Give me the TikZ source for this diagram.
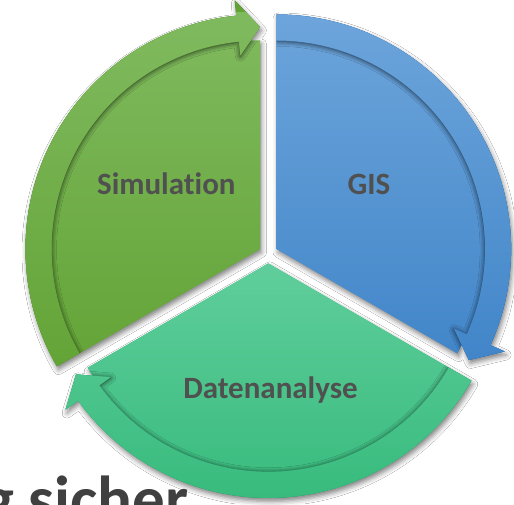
\documentclass[tikz,border=0pt]{standalone}
\usepackage{fontspec}
\setmainfont{Carlito}[Ligatures={NoCommon}]
\usetikzlibrary{shadows.blur}

\definecolor{simtop}{HTML}{80BA5F}
\definecolor{simbot}{HTML}{62A335}
\definecolor{gistop}{HTML}{6DA5DB}
\definecolor{gisbot}{HTML}{3F84C8}
\definecolor{dattop}{HTML}{60CE9C}
\definecolor{datbot}{HTML}{38BB7D}
\definecolor{labelgray}{HTML}{505050}
\definecolor{titlegray}{HTML}{404040}

% geometry of one cycle segment (arrow runs clockwise from 90 to -30 degrees)
\def\cycR{234.5}   % outer radius of the arrow band
\def\cycr{208.5}   % radius of the segment body
\def\cycHo{250}    % outer barb of the arrow head
\def\cycHi{194.5}  % inner barb of the arrow head
\def\cycRt{222}    % radius of the arrow tip
\def\cycTb{-24.2}  % angle of the head base
\def\cycTe{-30}    % angle of the tip (segment border)

\newcommand\cycOutline[1]{%
  (0,0) -- ({90+#1}:\cycR)
  arc[start angle={90+#1}, end angle={\cycTb+#1}, radius=\cycR]
  -- ({\cycTb+#1}:\cycHo) -- ({\cycTe+#1}:\cycRt) -- ({\cycTb+#1}:\cycHi)
  -- ({\cycTb+#1}:\cycr)
  arc[start angle={\cycTb+#1}, end angle={\cycTe+#1}, radius=\cycr] -- cycle}

\newcommand\cycBand[1]{%
  ({90+#1}:\cycR)
  arc[start angle={90+#1}, end angle={\cycTb+#1}, radius=\cycR]
  -- ({\cycTb+#1}:\cycHo) -- ({\cycTe+#1}:\cycRt) -- ({\cycTb+#1}:\cycHi)
  -- ({\cycTb+#1}:\cycr)
  arc[start angle={\cycTb+#1}, end angle={90+#1}, radius=\cycr] -- cycle}

% #1 centre, #2 rotation, #3 top colour, #4 bottom colour, #5/#6 shading range
\newcommand\cycSegment[6]{%
  \begin{scope}[shift={#1}]
    \path[segdrop, fill=#4] \cycOutline{#2};
    \begin{scope}
      \clip \cycOutline{#2};
      \shade[top color=#3, bottom color=#4] (-260,#5) rectangle (260,#6);
      \path[bandglow, fill=#4] \cycBand{#2};
      \clip \cycBand{#2};
      \shade[top color=#3, bottom color=#4] (-260,#5) rectangle (260,#6);
    \end{scope}
  \end{scope}}

\tikzset{
  segdrop/.style={blur shadow={shadow xshift=1.5pt, shadow yshift=-3.5pt,
      shadow blur radius=5pt, shadow opacity=50}},
  bandglow/.style={blur shadow={shadow xshift=0pt, shadow yshift=-0.8pt,
      shadow blur radius=5pt, shadow opacity=75}},
  seglabel/.style={font=\fontsize{31}{36}\selectfont\bfseries, text=labelgray,
      inner sep=0pt, anchor=base},
}

\begin{document}
\begin{tikzpicture}[x=1pt, y=1pt]
  \useasboundingbox (0,0) rectangle (514,504);
  \fill[white] (0,0) rectangle (514,504);

  \cycSegment{(276.6,255)}{0}{gistop}{gisbot}{-130}{236}
  \cycSegment{(260,255)}{120}{simtop}{simbot}{-130}{236}
  \cycSegment{(268.3,240.6)}{-120}{dattop}{datbot}{-236}{2}

  \node[seglabel] (sim) at (166.3,309) {Simulation};
  \node[seglabel] (gis) at (369,309) {GIS};
  \node[seglabel] (dat) at (270.5,106) {Datenanalyse};

  \node[anchor=base west, inner sep=0pt, text=titlegray,
        font=\fontsize{65}{70}\selectfont\bfseries] (title) at (-17,-17) {g sicher};
\end{tikzpicture}
\end{document}
